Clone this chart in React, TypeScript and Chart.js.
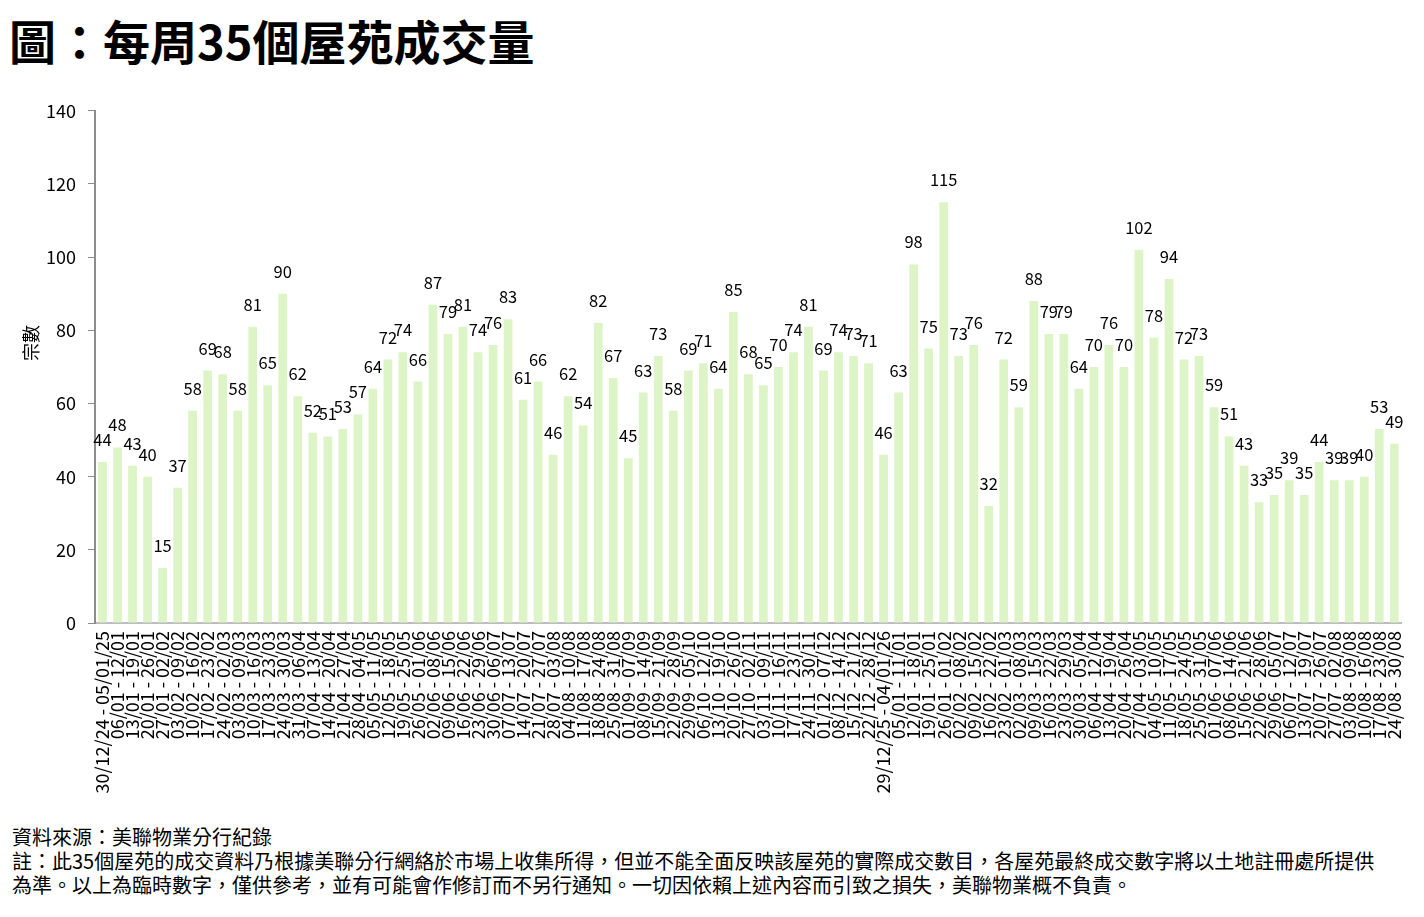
import { useEffect, useRef } from 'react';
import { Chart, registerables } from 'chart.js';

Chart.register(...registerables);

// week ranges, 2025 then 2026
const weeks2025 = [
  '30/12/24 - 05/01/25', '06/01 - 12/01', '13/01 - 19/01', '20/01 - 26/01', '27/01 - 02/02',
  '03/02 - 09/02', '10/02 - 16/02', '17/02 - 23/02', '24/02 - 02/03', '03/03 - 09/03',
  '10/03 - 16/03', '17/03 - 23/03', '24/03 - 30/03', '31/03 - 06/04', '07/04 - 13/04',
  '14/04 - 20/04', '21/04 - 27/04', '28/04 - 04/05', '05/05 - 11/05', '12/05 - 18/05',
  '19/05 - 25/05', '26/05 - 01/06', '02/06 - 08/06', '09/06 - 15/06', '16/06 - 22/06',
  '23/06 - 29/06', '30/06 - 06/07', '07/07 - 13/07', '14/07 - 20/07', '21/07 - 27/07',
  '28/07 - 03/08', '04/08 - 10/08', '11/08 - 17/08', '18/08 - 24/08', '25/08 - 31/08',
  '01/09 - 07/09', '08/09 - 14/09', '15/09 - 21/09', '22/09 - 28/09', '29/09 - 05/10',
  '06/10 - 12/10', '13/10 - 19/10', '20/10 - 26/10', '27/10 - 02/11', '03/11 - 09/11',
  '10/11 - 16/11', '17/11 - 23/11', '24/11 - 30/11', '01/12 - 07/12', '08/12 - 14/12',
  '15/12 - 21/12', '22/12 - 28/12',
];
const weeks2026 = [
  '29/12/25 - 04/01/26', '05/01 - 11/01', '12/01 - 18/01', '19/01 - 25/01', '26/01 - 01/02',
  '02/02 - 08/02', '09/02 - 15/02', '16/02 - 22/02', '23/02 - 01/03', '02/03 - 08/03',
  '09/03 - 15/03', '16/03 - 22/03', '23/03 - 29/03', '30/03 - 05/04', '06/04 - 12/04',
  '13/04 - 19/04', '20/04 - 26/04', '27/04 - 03/05', '04/05 - 10/05', '11/05 - 17/05',
  '18/05 - 24/05', '25/05 - 31/05', '01/06 - 07/06', '08/06 - 14/06', '15/06 - 21/06',
  '22/06 - 28/06', '29/06 - 05/07', '06/07 - 12/07', '13/07 - 19/07', '20/07 - 26/07',
  '27/07 - 02/08', '03/08 - 09/08', '10/08 - 16/08', '17/08 - 23/08', '24/08 - 30/08',
];

const deals2025 = [
  44, 48, 43, 40, 15, 37, 58, 69, 68, 58, 81, 65, 90, 62, 52, 51, 53, 57, 64, 72,
  74, 66, 87, 79, 81, 74, 76, 83, 61, 66, 46, 62, 54, 82, 67, 45, 63, 73, 58, 69,
  71, 64, 85, 68, 65, 70, 74, 81, 69, 74, 73, 71,
];
const deals2026 = [
  46, 63, 98, 75, 115, 73, 76, 32, 72, 59, 88, 79, 79, 64, 70, 76, 70, 102, 78, 94,
  72, 73, 59, 51, 43, 33, 35, 39, 35, 44, 39, 39, 40, 53, 49,
];

const yTicks = [0, 20, 40, 60, 80, 100, 120, 140];

const FONT = '"Noto Sans CJK TC", "Noto Sans", sans-serif';

// simple value labels above each bar
const barLabels = {
  id: 'barLabels',
  afterDatasetsDraw(chart: any) {
    const ctx = chart.ctx;
    const meta = chart.getDatasetMeta(0);
    const values = chart.data.datasets[0].data;
    ctx.save();
    ctx.font = `16.5px ${FONT}`;
    ctx.fillStyle = '#000';
    ctx.textAlign = 'center';
    ctx.textBaseline = 'alphabetic';
    meta.data.forEach((bar: any, i: number) => {
      ctx.fillText(String(values[i]), bar.x, bar.y - 16);
    });
    ctx.restore();
  },
};

function WeeklyDealsChart() {
  const canvasRef = useRef<HTMLCanvasElement>(null);

  useEffect(() => {
    if (!canvasRef.current) return;
    const chart = new Chart(canvasRef.current, {
      type: 'bar',
      data: {
        labels: [...weeks2025, ...weeks2026],
        datasets: [
          {
            label: '成交量',
            data: [...deals2025, ...deals2026],
            backgroundColor: '#ddf4c6',
            categoryPercentage: 1,
            barPercentage: 0.58,
          },
        ],
      },
      options: {
        animation: false,
        responsive: false,
        maintainAspectRatio: false,
        layout: { padding: { top: 0, right: 20, left: 0, bottom: 0 } },
        plugins: {
          legend: { display: false },
          tooltip: { enabled: false },
        },
        scales: {
          x: {
            grid: { display: false, drawTicks: false },
            border: { display: true, color: '#bdbdbd', width: 2 },
            ticks: {
              autoSkip: false,
              minRotation: 90,
              maxRotation: 90,
              padding: 8,
              color: '#000',
              font: { family: FONT, size: 18 },
            },
            afterFit: (s: any) => { s.height = 187; },
          },
          y: {
            min: 0,
            max: 140,
            afterBuildTicks: (s: any) => { s.ticks = yTicks.map((v) => ({ value: v })); },
            grid: { drawOnChartArea: false, drawTicks: true, tickLength: 7, color: '#8c8c8c', width: 2 },
            border: { display: true, color: '#8c8c8c', width: 2 },
            ticks: {
              padding: 12,
              color: '#000',
              font: { family: FONT, size: 18 },
            },
            afterFit: (s: any) => { s.width = 95; },
          },
        },
      },
      plugins: [barLabels],
    });
    return () => chart.destroy();
  }, []);

  return <canvas ref={canvasRef} width={1424} height={722} style={{ position: 'absolute', left: 0, top: 88 }} />;
}

export default function App() {
  return (
    <div
      style={{
        position: 'fixed',
        left: 0,
        top: 0,
        width: 1424,
        height: 917,
        background: '#fff',
        fontFamily: FONT,
        color: '#000',
        overflow: 'hidden',
      }}
    >
      <div style={{ position: 'absolute', left: 9, top: 10, fontSize: 47, fontWeight: 700, lineHeight: '60px', whiteSpace: 'nowrap' }}>
        圖：每周35個屋苑成交量
      </div>
      <WeeklyDealsChart />
      <div
        style={{
          position: 'absolute',
          left: 30,
          top: 343,
          fontSize: 18,
          lineHeight: '20px',
          whiteSpace: 'nowrap',
          transform: 'translate(-50%, -50%) rotate(-90deg)',
        }}
      >
        宗數
      </div>
      <div style={{ position: 'absolute', left: 12, top: 825, fontSize: 20, lineHeight: '24px', whiteSpace: 'nowrap' }}>
        <div>資料來源：美聯物業分行紀錄</div>
        <div>註：此35個屋苑的成交資料乃根據美聯分行網絡於市場上收集所得，但並不能全面反映該屋苑的實際成交數目，各屋苑最終成交數字將以土地註冊處所提供</div>
        <div>為準。以上為臨時數字，僅供參考，並有可能會作修訂而不另行通知。一切因依賴上述內容而引致之損失，美聯物業概不負責。</div>
      </div>
    </div>
  );
}
